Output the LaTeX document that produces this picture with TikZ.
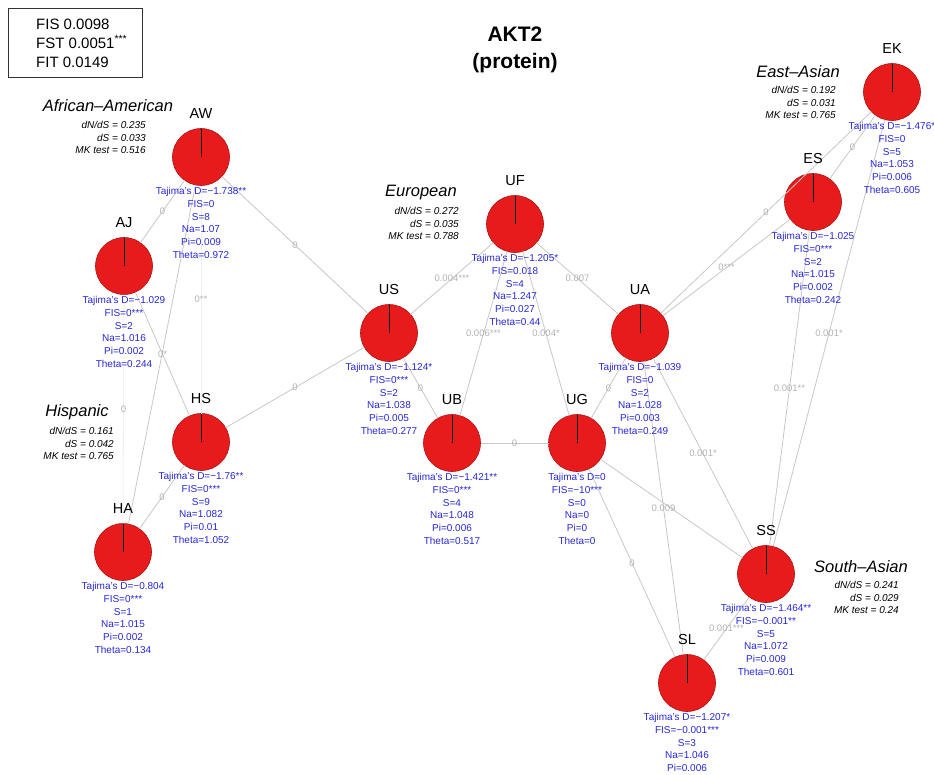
\documentclass[tikz,border=0pt]{standalone}
\usepackage{fontspec}
\setmainfont{Liberation Sans}
\usetikzlibrary{positioning}

\newlength{\du}
\setlength{\du}{1pt}

\definecolor{piered}{rgb}{0.905000, 0.105000, 0.105000}
\definecolor{edgegray}{rgb}{0.780000, 0.780000, 0.780000}
\definecolor{labelgray}{rgb}{0.700000, 0.700000, 0.700000}
\definecolor{statblue}{rgb}{0.150000, 0.150000, 0.850000}

\tikzset{
  pie/.style={circle, draw=piered!75!black, line width=0.6\du, fill=piered,
    minimum size=57\du, inner sep=0pt, outer sep=0pt},
  slice/.style={draw=black, line width=1\du},
  edge/.style={draw=edgegray, line width=0.8\du},
  faintedge/.style={draw=black!6, line width=0.8\du},
  elabel/.style={text=labelgray, font=\fontsize{9.5}{10}\selectfont, inner sep=0pt},
  popname/.style={font=\fontsize{14.5}{16}\selectfont},
  stats/.style={text=statblue, font=\fontsize{10}{12.8}\selectfont, align=center, inner sep=1\du},
  grouptitle/.style={font=\fontsize{16.5}{18}\selectfont\itshape},
  groupstats/.style={font=\fontsize{10}{12.7}\selectfont\itshape, align=right,
    anchor=north east, inner sep=0pt},
  legendbox/.style={draw=black!80, line width=0.8\du, minimum width=134\du,
    minimum height=69\du, inner sep=0pt},
  legendtext/.style={font=\fontsize{15}{19}\selectfont, align=left, anchor=west, inner sep=0pt},
  titletext/.style={font=\fontsize{21}{27}\selectfont\bfseries, align=center},
}

\begin{document}
\begin{tikzpicture}
\pgftransformxscale{1.000000}
\pgftransformyscale{-1.000000}
\useasboundingbox (0\du,0\du) rectangle (934\du,774\du);

% legend and title
\node[legendbox] (legend) at (75\du,42.5\du) {};
\node[legendtext] (legendtxt) at (36\du,43\du) {FIS 0.0098\\FST 0.0051\textsuperscript{***}\\FIT 0.0149};
\node[titletext] (title) at (515\du,49.5\du) {AKT2\\(protein)};

% populations
\node[pie] (AW) at (201\du,157\du) {};
\node[pie] (AJ) at (124\du,266\du) {};
\node[pie] (HS) at (201\du,442\du) {};
\node[pie] (HA) at (123\du,552\du) {};
\node[pie] (US) at (389\du,333\du) {};
\node[pie] (UF) at (515\du,224\du) {};
\node[pie] (UB) at (452\du,443\du) {};
\node[pie] (UG) at (577\du,443\du) {};
\node[pie] (UA) at (640\du,333\du) {};
\node[pie] (ES) at (813\du,202\du) {};
\node[pie] (EK) at (892\du,92\du) {};
\node[pie] (SS) at (766\du,574\du) {};
\node[pie] (SL) at (687\du,683\du) {};

% connections
\draw[edge] (AW) -- node[elabel]{0} (AJ);
\draw[edge] (AW) -- node[elabel]{0} (US);
\draw[faintedge] (AW) -- node[elabel]{0**} (HS);
\draw[edge] (AW) -- (HA);
\draw[edge] (AJ) -- node[elabel]{0*} (HS);
\draw[faintedge] (AJ) -- node[elabel]{0} (HA);
\draw[edge] (HS) -- node[elabel]{0} (HA);
\draw[edge] (HS) -- node[elabel]{0} (US);
\draw[edge] (US) -- node[elabel]{0.004***} (UF);
\draw[edge] (US) -- node[elabel]{0} (UB);
\draw[edge] (UF) -- node[elabel]{0.006***} (UB);
\draw[edge] (UF) -- node[elabel]{0.004*} (UG);
\draw[edge] (UF) -- node[elabel]{0.007} (UA);
\draw[edge] (UB) -- node[elabel]{0} (UG);
\draw[edge] (UG) -- node[elabel]{0} (UA);
\draw[edge] (UG) -- (SS);
\draw[edge] (UG) -- node[elabel]{0} (SL);
\draw[edge] (UA) -- node[elabel]{0.009} (SL);
\draw[edge] (UA) -- node[elabel]{0.001*} (SS);
\draw[edge] (UA) -- node[elabel]{0***} (ES);
\draw[edge] (UA) -- node[elabel]{0} (EK);
\draw[edge] (ES) -- node[elabel]{0} (EK);
\draw[edge] (ES) -- node[elabel]{0.001**} (SS);
\draw[edge] (EK) -- node[elabel]{0.001*} (SS);
\draw[edge] (SS) -- node[elabel]{0.001***} (SL);

% pie slices
\foreach \p in {AW,AJ,HS,HA,US,UF,UB,UG,UA,ES,EK,SS,SL}{
  \draw[slice] (\p.center) -- (\p.north);
  \node[popname, above=6\du of \p] (\p name) {\p};
}

% statistics under each population
\node[stats, below=0.5\du of AW] (AWstats) {Tajima's D=−1.738**\\FIS=0\\S=8\\Na=1.07\\Pi=0.009\\Theta=0.972};
\node[stats, below=0.5\du of AJ] (AJstats) {Tajima's D=−1.029\\FIS=0***\\S=2\\Na=1.016\\Pi=0.002\\Theta=0.244};
\node[stats, below=0.5\du of HS] (HSstats) {Tajima's D=−1.76**\\FIS=0***\\S=9\\Na=1.082\\Pi=0.01\\Theta=1.052};
\node[stats, below=0.5\du of HA] (HAstats) {Tajima's D=−0.804\\FIS=0***\\S=1\\Na=1.015\\Pi=0.002\\Theta=0.134};
\node[stats, below=0.5\du of US] (USstats) {Tajima's D=−1.124*\\FIS=0***\\S=2\\Na=1.038\\Pi=0.005\\Theta=0.277};
\node[stats, below=0.5\du of UF] (UFstats) {Tajima's D=−1.205*\\FIS=0.018\\S=4\\Na=1.247\\Pi=0.027\\Theta=0.44};
\node[stats, below=0.5\du of UB] (UBstats) {Tajima's D=−1.421**\\FIS=0***\\S=4\\Na=1.048\\Pi=0.006\\Theta=0.517};
\node[stats, below=0.5\du of UG] (UGstats) {Tajima's D=0\\FIS=−10***\\S=0\\Na=0\\Pi=0\\Theta=0};
\node[stats, below=0.5\du of UA] (UAstats) {Tajima's D=−1.039\\FIS=0\\S=2\\Na=1.028\\Pi=0.003\\Theta=0.249};
\node[stats, below=0.5\du of ES] (ESstats) {Tajima's D=−1.025\\FIS=0***\\S=2\\Na=1.015\\Pi=0.002\\Theta=0.242};
\node[stats, below=0.5\du of EK] (EKstats) {Tajima's D=−1.476*\\FIS=0\\S=5\\Na=1.053\\Pi=0.006\\Theta=0.605};
\node[stats, below=0.5\du of SS] (SSstats) {Tajima's D=−1.464**\\FIS=−0.001**\\S=5\\Na=1.072\\Pi=0.009\\Theta=0.601};
\node[stats, below=0.5\du of SL] (SLstats) {Tajima's D=−1.207*\\FIS=−0.001***\\S=3\\Na=1.046\\Pi=0.006};

% population groups
\node[grouptitle] (afram) at (108\du,106\du) {African–American};
\node[groupstats] (aframstats) at (146\du,121\du) {dN/dS = 0.235\\dS = 0.033\\MK test = 0.516};
\node[grouptitle] (europ) at (421\du,193\du) {European};
\node[groupstats] (europstats) at (459\du,207\du) {dN/dS = 0.272\\dS = 0.035\\MK test = 0.788};
\node[grouptitle] (eastas) at (798\du,72\du) {East–Asian};
\node[groupstats] (eastasstats) at (836\du,86\du) {dN/dS = 0.192\\dS = 0.031\\MK test = 0.765};
\node[grouptitle] (hisp) at (77\du,412\du) {Hispanic};
\node[groupstats] (hispstats) at (114\du,427\du) {dN/dS = 0.161\\dS = 0.042\\MK test = 0.765};
\node[grouptitle] (southas) at (861\du,567\du) {South–Asian};
\node[groupstats] (southasstats) at (899\du,581\du) {dN/dS = 0.241\\dS = 0.029\\MK test = 0.24};
\end{tikzpicture}
\end{document}
